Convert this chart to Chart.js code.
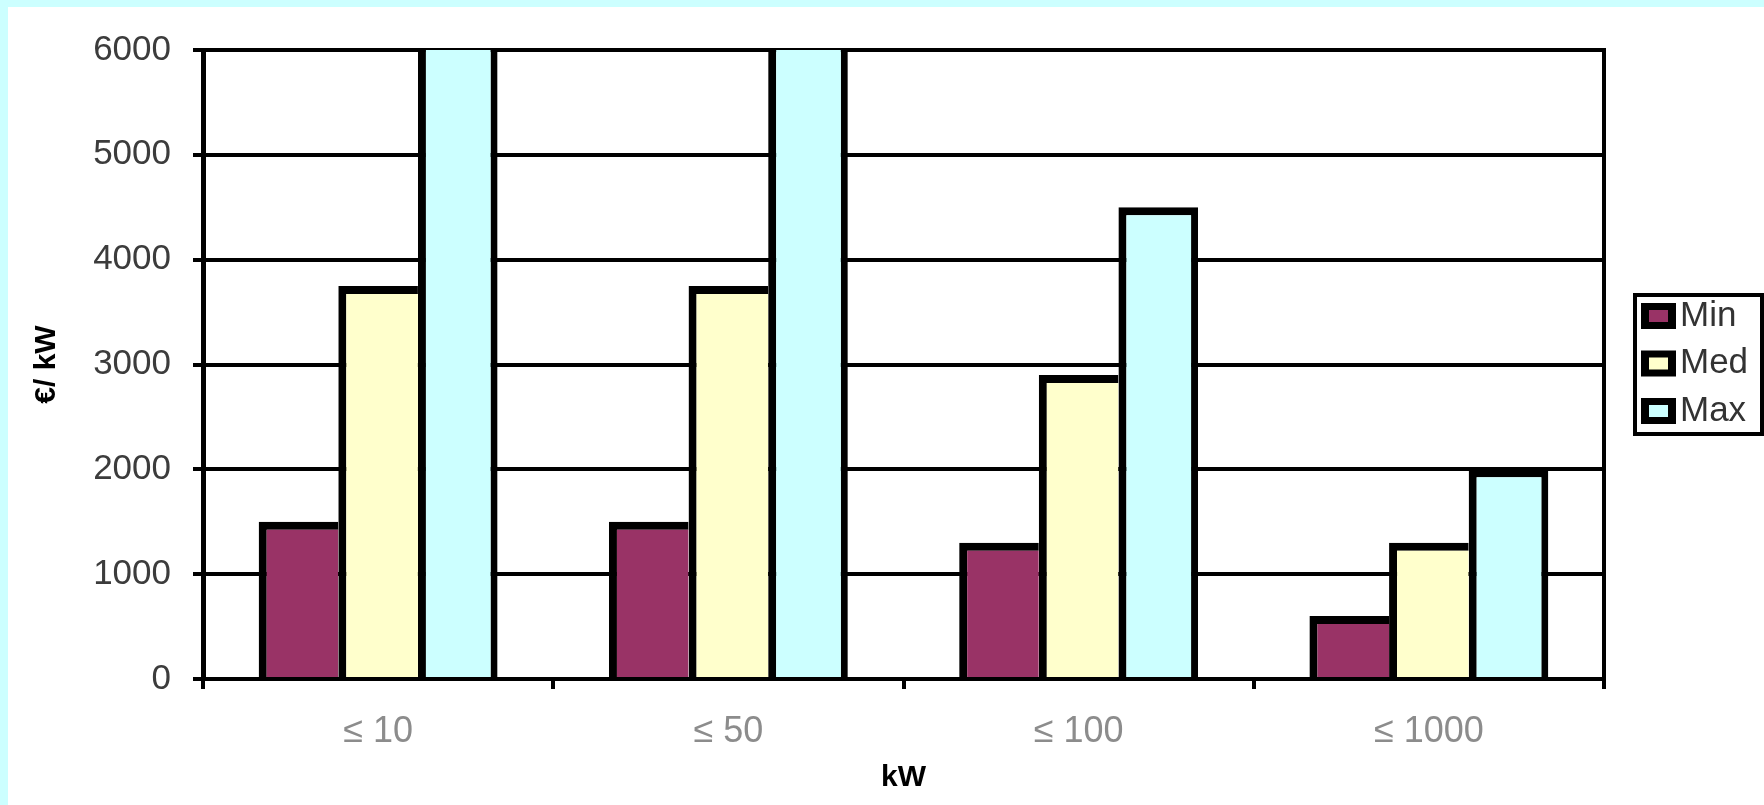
<!DOCTYPE html>
<html>
<head>
<meta charset="utf-8">
<script src="https://cdn.jsdelivr.net/npm/chart.js@4/dist/chart.umd.min.js"></script>
<style>
  html, body { margin: 0; padding: 0; width: 1764px; height: 805px; overflow: hidden; background: #CCFFFF; }
  #frame { position: absolute; left: 8px; top: 7px; width: 1756px; height: 798px; background: #FFFFFF; }
  canvas { display: block; }
</style>
</head>
<body>
<div id="frame"><canvas id="chart" width="1756" height="798"></canvas></div>
<script>
// Capacity classes and cost per kW (minimum / median / maximum)
const categories = ['≤ 10', '≤ 50', '≤ 100', '≤ 1000'];
const minValues = [1500, 1500, 1300, 600];
const medValues = [3750, 3750, 2900, 1300];
const maxValues = [6000, 6000, 4500, 2000];
const yTicks = [0, 1000, 2000, 3000, 4000, 5000, 6000];
const seriesNames = ['Min', 'Med', 'Max'];
const seriesColors = ['#993366', '#FFFFCC', '#CCFFFF'];

const FONT = "'Liberation Sans', Arial, sans-serif";
const Y_MAX = yTicks[yTicks.length - 1];

// Framed legend box drawn beside the plot
const boxLegend = {
  id: 'boxLegend',
  afterDraw(chart, args, o) {
    const ctx = chart.ctx;
    ctx.save();
    ctx.strokeStyle = '#000';
    ctx.lineWidth = 4;
    ctx.strokeRect(o.x + 2, o.y + 2, o.w - 4, o.h - 4);
    ctx.font = o.font;
    ctx.textAlign = 'left';
    ctx.textBaseline = 'middle';
    chart.data.datasets.forEach((ds, i) => {
      const cy = o.firstY + i * o.step;
      const sx = o.x + o.swatchX;
      const sy = cy - o.swH / 2;
      ctx.fillStyle = '#000';
      ctx.fillRect(sx, sy, o.swW, o.swH);
      ctx.fillStyle = ds.backgroundColor;
      ctx.fillRect(sx + 8, sy + 7, o.swW - 16, o.swH - 14);
      ctx.fillStyle = o.color;
      ctx.fillText(ds.label, sx + o.swW + 4, cy);
    });
    ctx.restore();
  }
};

// Bars touching the top of the value axis run into the frame: no top edge there
const edge = (right) => (c) => ({
  top: c.raw >= Y_MAX ? 0 : 8,
  left: 8,
  right: right,
  bottom: 0
});

const datasets = [minValues, medValues, maxValues].map((vals, i) => ({
  label: seriesNames[i],
  data: vals,
  backgroundColor: seriesColors[i],
  borderColor: '#000000',
  borderWidth: edge(i === 2 ? 7 : 0)
}));

new Chart(document.getElementById('chart'), {
  type: 'bar',
  data: { labels: categories, datasets },
  plugins: [boxLegend],
  options: {
    responsive: false,
    animation: false,
    devicePixelRatio: 1,
    layout: { padding: { left: 0, top: 41, right: 160, bottom: 0 } },
    datasets: { bar: { categoryPercentage: 0.682, barPercentage: 1 } },
    plugins: {
      legend: { display: false },
      tooltip: { enabled: false },
      boxLegend: {
        x: 1625, y: 286, w: 131, h: 143,
        swatchX: 8, swW: 35, swH: 26,
        firstY: 309, step: 47.5,
        font: "35px " + FONT, color: '#333333'
      }
    },
    scales: {
      x: {
        offset: true,
        grid: { display: true, drawOnChartArea: false, drawTicks: true, tickLength: 10, color: '#000', lineWidth: 4, offset: true },
        border: { display: true, color: '#000', width: 4 },
        ticks: { font: { family: FONT, size: 36 }, color: '#8c8c8c', padding: 21, maxRotation: 0, autoSkip: false },
        title: { display: true, text: 'kW', font: { family: FONT, size: 30, weight: 'bold' }, color: '#000', padding: { top: 0, bottom: 9 } },
        afterFit: s => { s.height = 126; }
      },
      y: {
        min: 0,
        max: Y_MAX,
        afterBuildTicks: s => { s.ticks = yTicks.map(v => ({ value: v })); },
        grid: { color: '#000', lineWidth: 4, drawTicks: true, tickLength: 10 },
        border: { display: true, color: '#000', width: 5 },
        ticks: { font: { family: FONT, size: 35 }, color: '#3c3c3c', padding: 22, callback: v => String(v) },
        title: { display: true, text: '€/ kW', font: { family: FONT, size: 30, weight: 'bold' }, color: '#000', padding: { top: 21, bottom: 0 } },
        afterFit: s => { s.width = 195; }
      },
      frameRight: {
        position: 'right',
        display: true,
        grid: { drawOnChartArea: false, drawTicks: false },
        ticks: { display: false },
        border: { display: true, color: '#000', width: 4 },
        afterFit: s => { s.width = 0; }
      }
    }
  }
});
</script>
</body>
</html>
